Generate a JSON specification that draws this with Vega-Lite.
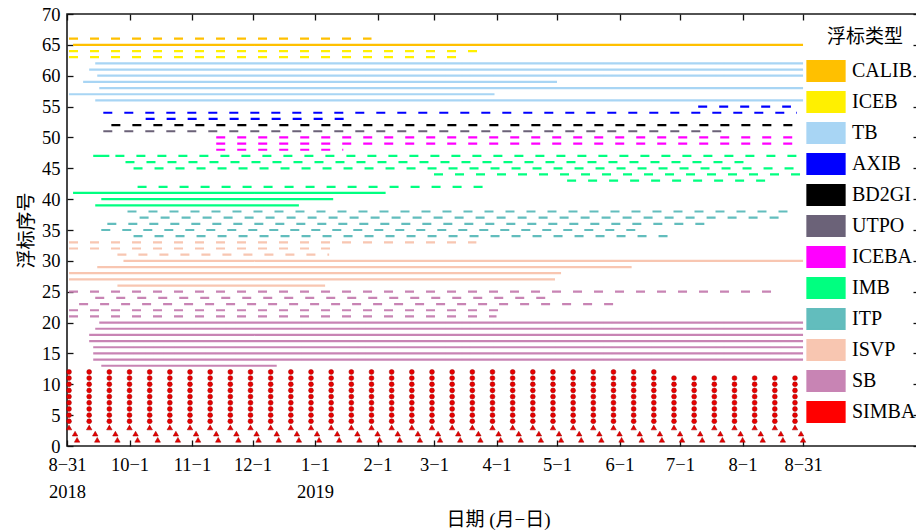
{
"$schema":"https://vega.github.io/schema/vega-lite/v6.json",
"width":852,"height":432,
"autosize":{"type":"none"},
"padding":{"left":67,"top":14,"right":0,"bottom":86},
"background":"white",
"config":{
 "view":{"stroke":"#1a1a1a","strokeWidth":1.6},
 "axis":{"domain":false,"grid":false,"tickColor":"#111","tickWidth":1.3,"tickSize":-6,"labelFont":"Liberation Serif","labelFontSize":18.5,"labelColor":"black","titleFont":"Liberation Serif, Noto Sans CJK SC","titleFontSize":19,"titleFontWeight":"normal","titleColor":"black"}
},
"datasets":{
"lines":[
{"t":"CALIB","y":66,"s":"2018-09-01","e":"2019-01-29","k":"dash"},
{"t":"CALIB","y":65,"s":"2018-09-03","e":"2019-08-31","k":"solid"},
{"t":"ICEB","y":64,"s":"2018-09-01","e":"2019-03-26","k":"dash"},
{"t":"ICEB","y":63,"s":"2018-09-01","e":"2019-03-16","k":"dash"},
{"t":"TB","y":62,"s":"2018-09-14","e":"2019-08-31","k":"solid"},
{"t":"TB","y":61,"s":"2018-09-11","e":"2019-08-31","k":"solid"},
{"t":"TB","y":60,"s":"2018-09-15","e":"2019-08-31","k":"solid"},
{"t":"TB","y":59,"s":"2018-09-08","e":"2019-05-01","k":"solid"},
{"t":"TB","y":58,"s":"2018-09-16","e":"2019-08-31","k":"solid"},
{"t":"TB","y":57,"s":"2018-09-01","e":"2019-03-31","k":"solid"},
{"t":"TB","y":56,"s":"2018-09-14","e":"2019-08-31","k":"solid"},
{"t":"AXIB","y":55,"s":"2019-07-10","e":"2019-08-25","k":"dash"},
{"t":"AXIB","y":54,"s":"2018-09-18","e":"2019-08-28","k":"dash"},
{"t":"AXIB","y":53,"s":"2018-10-09","e":"2019-01-16","k":"dash"},
{"t":"BD2GI","y":52,"s":"2018-09-22","e":"2019-08-31","k":"dash"},
{"t":"UTPO","y":51,"s":"2018-09-18","e":"2019-07-26","k":"dash"},
{"t":"ICEBA","y":50,"s":"2018-11-13","e":"2019-08-31","k":"dash"},
{"t":"ICEBA","y":49,"s":"2018-11-13","e":"2019-08-31","k":"dash"},
{"t":"ICEBA","y":48,"s":"2018-11-13","e":"2019-01-15","k":"dash"},
{"t":"IMB","y":47,"s":"2018-09-13","e":"2018-09-21","k":"solid"},
{"t":"IMB","y":47,"s":"2018-09-24","e":"2019-08-31","k":"dash"},
{"t":"IMB","y":46,"s":"2018-09-29","e":"2019-08-07","k":"dash"},
{"t":"IMB","y":45,"s":"2018-10-03","e":"2019-08-31","k":"dash"},
{"t":"IMB","y":44,"s":"2019-03-01","e":"2019-08-30","k":"dash"},
{"t":"IMB","y":43,"s":"2019-05-06","e":"2019-08-13","k":"dash"},
{"t":"IMB","y":42,"s":"2018-10-05","e":"2019-03-29","k":"dash"},
{"t":"IMB","y":41,"s":"2018-09-03","e":"2019-02-05","k":"solid"},
{"t":"IMB","y":40,"s":"2018-09-17","e":"2019-01-10","k":"solid"},
{"t":"IMB","y":39,"s":"2018-09-14","e":"2018-12-24","k":"solid"},
{"t":"ITP","y":38,"s":"2018-09-30","e":"2019-08-29","k":"dash"},
{"t":"ITP","y":37,"s":"2018-10-06","e":"2019-08-24","k":"dash"},
{"t":"ITP","y":36,"s":"2018-09-20","e":"2019-07-18","k":"dash"},
{"t":"ITP","y":35,"s":"2018-09-17","e":"2019-06-14","k":"dash"},
{"t":"ITP","y":34,"s":"2018-10-03","e":"2019-06-26","k":"dash"},
{"t":"ISVP","y":33,"s":"2018-09-01","e":"2019-03-22","k":"dash"},
{"t":"ISVP","y":32,"s":"2018-09-01","e":"2019-01-11","k":"dash"},
{"t":"ISVP","y":31,"s":"2018-09-25","e":"2019-01-08","k":"dash"},
{"t":"ISVP","y":30,"s":"2018-09-28","e":"2019-08-31","k":"solid"},
{"t":"ISVP","y":29,"s":"2018-09-15","e":"2019-06-07","k":"solid"},
{"t":"ISVP","y":28,"s":"2018-09-01","e":"2019-05-03","k":"solid"},
{"t":"ISVP","y":27,"s":"2018-09-01","e":"2019-04-30","k":"solid"},
{"t":"ISVP","y":26,"s":"2018-09-25","e":"2019-01-06","k":"solid"},
{"t":"SB","y":25,"s":"2018-09-01","e":"2019-08-21","k":"dash"},
{"t":"SB","y":24,"s":"2018-09-14","e":"2019-04-27","k":"dash"},
{"t":"SB","y":23,"s":"2018-09-06","e":"2019-06-02","k":"dash"},
{"t":"SB","y":22,"s":"2018-09-01","e":"2019-04-06","k":"dash"},
{"t":"SB","y":21,"s":"2018-09-01","e":"2019-04-01","k":"dash"},
{"t":"SB","y":20,"s":"2018-09-16","e":"2019-08-31","k":"solid"},
{"t":"SB","y":19,"s":"2018-09-14","e":"2019-08-31","k":"solid"},
{"t":"SB","y":18,"s":"2018-09-11","e":"2019-08-31","k":"solid"},
{"t":"SB","y":17,"s":"2018-09-11","e":"2019-08-31","k":"solid"},
{"t":"SB","y":16,"s":"2018-09-13","e":"2019-08-31","k":"solid"},
{"t":"SB","y":15,"s":"2018-09-13","e":"2019-08-31","k":"solid"},
{"t":"SB","y":14,"s":"2018-09-13","e":"2019-08-31","k":"solid"},
{"t":"SB","y":13,"s":"2018-09-17","e":"2018-12-13","k":"solid"}
],
"dots":[
{"d":"2018-09-01","y":4},{"d":"2018-09-01","y":5},{"d":"2018-09-01","y":6},{"d":"2018-09-01","y":7},{"d":"2018-09-01","y":8},{"d":"2018-09-01","y":9},{"d":"2018-09-01","y":10},{"d":"2018-09-01","y":11},{"d":"2018-09-01","y":12},
{"d":"2018-09-11","y":4},{"d":"2018-09-11","y":5},{"d":"2018-09-11","y":6},{"d":"2018-09-11","y":7},{"d":"2018-09-11","y":8},{"d":"2018-09-11","y":9},{"d":"2018-09-11","y":10},{"d":"2018-09-11","y":11},{"d":"2018-09-11","y":12},
{"d":"2018-09-21","y":4},{"d":"2018-09-21","y":5},{"d":"2018-09-21","y":6},{"d":"2018-09-21","y":7},{"d":"2018-09-21","y":8},{"d":"2018-09-21","y":9},{"d":"2018-09-21","y":10},{"d":"2018-09-21","y":11},{"d":"2018-09-21","y":12},
{"d":"2018-10-01","y":4},{"d":"2018-10-01","y":5},{"d":"2018-10-01","y":6},{"d":"2018-10-01","y":7},{"d":"2018-10-01","y":8},{"d":"2018-10-01","y":9},{"d":"2018-10-01","y":10},{"d":"2018-10-01","y":11},{"d":"2018-10-01","y":12},
{"d":"2018-10-11","y":4},{"d":"2018-10-11","y":5},{"d":"2018-10-11","y":6},{"d":"2018-10-11","y":7},{"d":"2018-10-11","y":8},{"d":"2018-10-11","y":9},{"d":"2018-10-11","y":10},{"d":"2018-10-11","y":11},{"d":"2018-10-11","y":12},
{"d":"2018-10-21","y":4},{"d":"2018-10-21","y":5},{"d":"2018-10-21","y":6},{"d":"2018-10-21","y":7},{"d":"2018-10-21","y":8},{"d":"2018-10-21","y":9},{"d":"2018-10-21","y":10},{"d":"2018-10-21","y":11},{"d":"2018-10-21","y":12},
{"d":"2018-10-31","y":4},{"d":"2018-10-31","y":5},{"d":"2018-10-31","y":6},{"d":"2018-10-31","y":7},{"d":"2018-10-31","y":8},{"d":"2018-10-31","y":9},{"d":"2018-10-31","y":10},{"d":"2018-10-31","y":11},{"d":"2018-10-31","y":12},
{"d":"2018-11-10","y":4},{"d":"2018-11-10","y":5},{"d":"2018-11-10","y":6},{"d":"2018-11-10","y":7},{"d":"2018-11-10","y":8},{"d":"2018-11-10","y":9},{"d":"2018-11-10","y":10},{"d":"2018-11-10","y":11},{"d":"2018-11-10","y":12},
{"d":"2018-11-20","y":4},{"d":"2018-11-20","y":5},{"d":"2018-11-20","y":6},{"d":"2018-11-20","y":7},{"d":"2018-11-20","y":8},{"d":"2018-11-20","y":9},{"d":"2018-11-20","y":10},{"d":"2018-11-20","y":11},{"d":"2018-11-20","y":12},
{"d":"2018-11-30","y":4},{"d":"2018-11-30","y":5},{"d":"2018-11-30","y":6},{"d":"2018-11-30","y":7},{"d":"2018-11-30","y":8},{"d":"2018-11-30","y":9},{"d":"2018-11-30","y":10},{"d":"2018-11-30","y":11},{"d":"2018-11-30","y":12},
{"d":"2018-12-10","y":4},{"d":"2018-12-10","y":5},{"d":"2018-12-10","y":6},{"d":"2018-12-10","y":7},{"d":"2018-12-10","y":8},{"d":"2018-12-10","y":9},{"d":"2018-12-10","y":10},{"d":"2018-12-10","y":11},{"d":"2018-12-10","y":12},
{"d":"2018-12-20","y":4},{"d":"2018-12-20","y":5},{"d":"2018-12-20","y":6},{"d":"2018-12-20","y":7},{"d":"2018-12-20","y":8},{"d":"2018-12-20","y":9},{"d":"2018-12-20","y":10},{"d":"2018-12-20","y":11},{"d":"2018-12-20","y":12},
{"d":"2018-12-30","y":4},{"d":"2018-12-30","y":5},{"d":"2018-12-30","y":6},{"d":"2018-12-30","y":7},{"d":"2018-12-30","y":8},{"d":"2018-12-30","y":9},{"d":"2018-12-30","y":10},{"d":"2018-12-30","y":11},{"d":"2018-12-30","y":12},
{"d":"2019-01-09","y":4},{"d":"2019-01-09","y":5},{"d":"2019-01-09","y":6},{"d":"2019-01-09","y":7},{"d":"2019-01-09","y":8},{"d":"2019-01-09","y":9},{"d":"2019-01-09","y":10},{"d":"2019-01-09","y":11},{"d":"2019-01-09","y":12},
{"d":"2019-01-19","y":4},{"d":"2019-01-19","y":5},{"d":"2019-01-19","y":6},{"d":"2019-01-19","y":7},{"d":"2019-01-19","y":8},{"d":"2019-01-19","y":9},{"d":"2019-01-19","y":10},{"d":"2019-01-19","y":11},{"d":"2019-01-19","y":12},
{"d":"2019-01-29","y":4},{"d":"2019-01-29","y":5},{"d":"2019-01-29","y":6},{"d":"2019-01-29","y":7},{"d":"2019-01-29","y":8},{"d":"2019-01-29","y":9},{"d":"2019-01-29","y":10},{"d":"2019-01-29","y":11},{"d":"2019-01-29","y":12},
{"d":"2019-02-08","y":4},{"d":"2019-02-08","y":5},{"d":"2019-02-08","y":6},{"d":"2019-02-08","y":7},{"d":"2019-02-08","y":8},{"d":"2019-02-08","y":9},{"d":"2019-02-08","y":10},{"d":"2019-02-08","y":11},{"d":"2019-02-08","y":12},
{"d":"2019-02-18","y":4},{"d":"2019-02-18","y":5},{"d":"2019-02-18","y":6},{"d":"2019-02-18","y":7},{"d":"2019-02-18","y":8},{"d":"2019-02-18","y":9},{"d":"2019-02-18","y":10},{"d":"2019-02-18","y":11},{"d":"2019-02-18","y":12},
{"d":"2019-02-28","y":4},{"d":"2019-02-28","y":5},{"d":"2019-02-28","y":6},{"d":"2019-02-28","y":7},{"d":"2019-02-28","y":8},{"d":"2019-02-28","y":9},{"d":"2019-02-28","y":10},{"d":"2019-02-28","y":11},{"d":"2019-02-28","y":12},
{"d":"2019-03-10","y":4},{"d":"2019-03-10","y":5},{"d":"2019-03-10","y":6},{"d":"2019-03-10","y":7},{"d":"2019-03-10","y":8},{"d":"2019-03-10","y":9},{"d":"2019-03-10","y":10},{"d":"2019-03-10","y":11},{"d":"2019-03-10","y":12},
{"d":"2019-03-20","y":4},{"d":"2019-03-20","y":5},{"d":"2019-03-20","y":6},{"d":"2019-03-20","y":7},{"d":"2019-03-20","y":8},{"d":"2019-03-20","y":9},{"d":"2019-03-20","y":10},{"d":"2019-03-20","y":11},{"d":"2019-03-20","y":12},
{"d":"2019-03-30","y":4},{"d":"2019-03-30","y":5},{"d":"2019-03-30","y":6},{"d":"2019-03-30","y":7},{"d":"2019-03-30","y":8},{"d":"2019-03-30","y":9},{"d":"2019-03-30","y":10},{"d":"2019-03-30","y":11},{"d":"2019-03-30","y":12},
{"d":"2019-04-09","y":4},{"d":"2019-04-09","y":5},{"d":"2019-04-09","y":6},{"d":"2019-04-09","y":7},{"d":"2019-04-09","y":8},{"d":"2019-04-09","y":9},{"d":"2019-04-09","y":10},{"d":"2019-04-09","y":11},{"d":"2019-04-09","y":12},
{"d":"2019-04-19","y":4},{"d":"2019-04-19","y":5},{"d":"2019-04-19","y":6},{"d":"2019-04-19","y":7},{"d":"2019-04-19","y":8},{"d":"2019-04-19","y":9},{"d":"2019-04-19","y":10},{"d":"2019-04-19","y":11},{"d":"2019-04-19","y":12},
{"d":"2019-04-29","y":4},{"d":"2019-04-29","y":5},{"d":"2019-04-29","y":6},{"d":"2019-04-29","y":7},{"d":"2019-04-29","y":8},{"d":"2019-04-29","y":9},{"d":"2019-04-29","y":10},{"d":"2019-04-29","y":11},{"d":"2019-04-29","y":12},
{"d":"2019-05-09","y":4},{"d":"2019-05-09","y":5},{"d":"2019-05-09","y":6},{"d":"2019-05-09","y":7},{"d":"2019-05-09","y":8},{"d":"2019-05-09","y":9},{"d":"2019-05-09","y":10},{"d":"2019-05-09","y":11},{"d":"2019-05-09","y":12},
{"d":"2019-05-19","y":4},{"d":"2019-05-19","y":5},{"d":"2019-05-19","y":6},{"d":"2019-05-19","y":7},{"d":"2019-05-19","y":8},{"d":"2019-05-19","y":9},{"d":"2019-05-19","y":10},{"d":"2019-05-19","y":11},{"d":"2019-05-19","y":12},
{"d":"2019-05-29","y":4},{"d":"2019-05-29","y":5},{"d":"2019-05-29","y":6},{"d":"2019-05-29","y":7},{"d":"2019-05-29","y":8},{"d":"2019-05-29","y":9},{"d":"2019-05-29","y":10},{"d":"2019-05-29","y":11},{"d":"2019-05-29","y":12},
{"d":"2019-06-08","y":4},{"d":"2019-06-08","y":5},{"d":"2019-06-08","y":6},{"d":"2019-06-08","y":7},{"d":"2019-06-08","y":8},{"d":"2019-06-08","y":9},{"d":"2019-06-08","y":10},{"d":"2019-06-08","y":11},{"d":"2019-06-08","y":12},
{"d":"2019-06-18","y":4},{"d":"2019-06-18","y":5},{"d":"2019-06-18","y":6},{"d":"2019-06-18","y":7},{"d":"2019-06-18","y":8},{"d":"2019-06-18","y":9},{"d":"2019-06-18","y":10},{"d":"2019-06-18","y":11},{"d":"2019-06-18","y":12},
{"d":"2019-06-28","y":4},{"d":"2019-06-28","y":5},{"d":"2019-06-28","y":6},{"d":"2019-06-28","y":7},{"d":"2019-06-28","y":8},{"d":"2019-06-28","y":9},{"d":"2019-06-28","y":10},{"d":"2019-06-28","y":11},
{"d":"2019-07-08","y":4},{"d":"2019-07-08","y":5},{"d":"2019-07-08","y":6},{"d":"2019-07-08","y":7},{"d":"2019-07-08","y":8},{"d":"2019-07-08","y":9},{"d":"2019-07-08","y":10},{"d":"2019-07-08","y":11},
{"d":"2019-07-18","y":4},{"d":"2019-07-18","y":5},{"d":"2019-07-18","y":6},{"d":"2019-07-18","y":7},{"d":"2019-07-18","y":8},{"d":"2019-07-18","y":9},{"d":"2019-07-18","y":10},{"d":"2019-07-18","y":11},
{"d":"2019-07-28","y":4},{"d":"2019-07-28","y":5},{"d":"2019-07-28","y":6},{"d":"2019-07-28","y":7},{"d":"2019-07-28","y":8},{"d":"2019-07-28","y":9},{"d":"2019-07-28","y":10},{"d":"2019-07-28","y":11},
{"d":"2019-08-07","y":4},{"d":"2019-08-07","y":5},{"d":"2019-08-07","y":6},{"d":"2019-08-07","y":7},{"d":"2019-08-07","y":8},{"d":"2019-08-07","y":9},{"d":"2019-08-07","y":10},{"d":"2019-08-07","y":11},
{"d":"2019-08-17","y":4},{"d":"2019-08-17","y":5},{"d":"2019-08-17","y":6},{"d":"2019-08-17","y":7},{"d":"2019-08-17","y":8},{"d":"2019-08-17","y":9},{"d":"2019-08-17","y":10},{"d":"2019-08-17","y":11},
{"d":"2019-08-27","y":4},{"d":"2019-08-27","y":5},{"d":"2019-08-27","y":6},{"d":"2019-08-27","y":7},{"d":"2019-08-27","y":8},{"d":"2019-08-27","y":9},{"d":"2019-08-27","y":10},{"d":"2019-08-27","y":11}
],
"tris":[
{"d":"2018-09-01","y":3},{"d":"2018-09-04","y":2},{"d":"2018-09-05","y":1},
{"d":"2018-09-11","y":3},{"d":"2018-09-14","y":2},{"d":"2018-09-15","y":1},
{"d":"2018-09-21","y":3},{"d":"2018-09-24","y":2},{"d":"2018-09-25","y":1},
{"d":"2018-10-01","y":3},{"d":"2018-10-04","y":2},{"d":"2018-10-05","y":1},
{"d":"2018-10-11","y":3},{"d":"2018-10-14","y":2},{"d":"2018-10-15","y":1},
{"d":"2018-10-21","y":3},{"d":"2018-10-24","y":2},{"d":"2018-10-25","y":1},
{"d":"2018-10-31","y":3},{"d":"2018-11-03","y":2},{"d":"2018-11-04","y":1},
{"d":"2018-11-10","y":3},{"d":"2018-11-13","y":2},{"d":"2018-11-14","y":1},
{"d":"2018-11-20","y":3},{"d":"2018-11-23","y":2},{"d":"2018-11-24","y":1},
{"d":"2018-11-30","y":3},{"d":"2018-12-03","y":2},{"d":"2018-12-04","y":1},
{"d":"2018-12-10","y":3},{"d":"2018-12-13","y":2},{"d":"2018-12-14","y":1},
{"d":"2018-12-20","y":3},{"d":"2018-12-23","y":2},{"d":"2018-12-24","y":1},
{"d":"2018-12-30","y":3},{"d":"2019-01-02","y":2},{"d":"2019-01-03","y":1},
{"d":"2019-01-09","y":3},{"d":"2019-01-12","y":2},{"d":"2019-01-13","y":1},
{"d":"2019-01-19","y":3},{"d":"2019-01-22","y":2},{"d":"2019-01-23","y":1},
{"d":"2019-01-29","y":3},{"d":"2019-02-01","y":2},{"d":"2019-02-02","y":1},
{"d":"2019-02-08","y":3},{"d":"2019-02-11","y":2},{"d":"2019-02-12","y":1},
{"d":"2019-02-18","y":3},{"d":"2019-02-21","y":2},{"d":"2019-02-22","y":1},
{"d":"2019-02-28","y":3},{"d":"2019-03-03","y":2},{"d":"2019-03-04","y":1},
{"d":"2019-03-10","y":3},{"d":"2019-03-13","y":2},{"d":"2019-03-14","y":1},
{"d":"2019-03-20","y":3},{"d":"2019-03-23","y":2},{"d":"2019-03-24","y":1},
{"d":"2019-03-30","y":3},{"d":"2019-04-02","y":2},{"d":"2019-04-03","y":1},
{"d":"2019-04-09","y":3},{"d":"2019-04-12","y":2},{"d":"2019-04-13","y":1},
{"d":"2019-04-19","y":3},{"d":"2019-04-22","y":2},{"d":"2019-04-23","y":1},
{"d":"2019-04-29","y":3},{"d":"2019-05-02","y":2},{"d":"2019-05-03","y":1},
{"d":"2019-05-09","y":3},{"d":"2019-05-12","y":2},{"d":"2019-05-13","y":1},
{"d":"2019-05-19","y":3},{"d":"2019-05-22","y":2},{"d":"2019-05-23","y":1},
{"d":"2019-05-29","y":3},{"d":"2019-06-01","y":2},{"d":"2019-06-02","y":1},
{"d":"2019-06-08","y":3},{"d":"2019-06-11","y":2},{"d":"2019-06-12","y":1},
{"d":"2019-06-18","y":3},{"d":"2019-06-21","y":2},{"d":"2019-06-22","y":1},
{"d":"2019-06-28","y":3},{"d":"2019-07-01","y":2},{"d":"2019-07-02","y":1},
{"d":"2019-07-08","y":3},{"d":"2019-07-11","y":2},{"d":"2019-07-12","y":1},
{"d":"2019-07-18","y":3},{"d":"2019-07-21","y":2},{"d":"2019-07-22","y":1},
{"d":"2019-07-28","y":3},{"d":"2019-07-31","y":2},{"d":"2019-08-01","y":1},
{"d":"2019-08-07","y":3},{"d":"2019-08-10","y":2},{"d":"2019-08-11","y":1},
{"d":"2019-08-17","y":3},{"d":"2019-08-20","y":2},{"d":"2019-08-21","y":1},
{"d":"2019-08-27","y":3},{"d":"2019-08-30","y":2},{"d":"2019-08-31","y":1}
]
},
"resolve":{"axis":{"x":"independent","y":"independent"}},
"layer":[
{
 "data":{"name":"lines"},
 "mark":{"type":"rule","strokeWidth":2.2},
 "encoding":{
  "x":{"field":"s","type":"temporal","scale":{"type":"utc","domain":[{"year":2018,"month":8,"date":31,"utc":true},{"year":2019,"month":10,"date":27,"hours":12,"utc":true}]},
   "axis":{"orient":"bottom","title":"日期 (月−日)","titlePadding":10,"titleX":431,"labelPadding":15,"labelFlush":false,"labelLineHeight":27,"labelBaseline":"top",
    "values":[{"year":2018,"month":8,"date":31,"utc":true},{"year":2018,"month":10,"date":1,"utc":true},{"year":2018,"month":11,"date":1,"utc":true},{"year":2018,"month":12,"date":1,"utc":true},{"year":2019,"month":1,"date":1,"utc":true},{"year":2019,"month":2,"date":1,"utc":true},{"year":2019,"month":3,"date":1,"utc":true},{"year":2019,"month":4,"date":1,"utc":true},{"year":2019,"month":5,"date":1,"utc":true},{"year":2019,"month":6,"date":1,"utc":true},{"year":2019,"month":7,"date":1,"utc":true},{"year":2019,"month":8,"date":1,"utc":true},{"year":2019,"month":8,"date":31,"utc":true}],
    "labelExpr":"(utcyear(datum.value)==2018 && utcmonth(datum.value)==7) ? ['8−31','2018'] : (utcmonth(datum.value)==0 ? ['1−1','2019'] : (utcmonth(datum.value)+1) + '−' + utcdate(datum.value))"}},
  "x2":{"field":"e"},
  "y":{"field":"y","type":"quantitative","scale":{"domain":[0,70],"nice":false,"zero":true},
   "axis":{"orient":"left","title":"浮标序号","titlePadding":5,"labelPadding":13,"values":[0,5,10,15,20,25,30,35,40,45,50,55,60,65,70]}},
  "color":{"field":"t","type":"nominal",
   "scale":{"domain":["CALIB","ICEB","TB","AXIB","BD2GI","UTPO","ICEBA","IMB","ITP","ISVP","SB","SIMBA"],
            "range":["#FFC000","#FFF000","#A8D5F4","#0000FF","#000000","#6B6278","#FF00FF","#00FF80","#62BDBD","#F8C6B1","#C884B4","#FF0000"]},
   "legend":{"orient":"none","legendX":747,"legendY":14,"title":"浮标类型","titleFont":"Noto Sans CJK SC","titleFontSize":19,"titleFontWeight":"normal","titleColor":"black","titleAnchor":"middle","titlePadding":12,
    "labelFont":"Liberation Serif","labelFontSize":20,"labelColor":"black","labelOffset":14,"labelLimit":300,
    "symbolType":"M-1.727,-0.95L1.727,-0.95L1.727,0.95L-1.727,0.95Z","symbolSize":484,"symbolStrokeWidth":1.3,"symbolStrokeColor":"#333","rowPadding":3,"padding":0,
    "encode":{"symbols":{"update":{"fill":{"scale":"color","field":"value"},"stroke":{"value":"#333333"},"opacity":{"value":1},"strokeWidth":{"value":1.3}}}}}},
  "strokeDash":{"field":"k","type":"nominal","scale":{"domain":["solid","dash"],"range":[[1,0],[9,12]]},"legend":null}
 }
},
{
 "data":{"name":"dots"},
 "mark":{"type":"point","shape":"circle","filled":true,"size":24,"opacity":1,"color":"#E60000","stroke":"#A00000","strokeWidth":0.5},
 "encoding":{
  "x":{"field":"d","type":"temporal","axis":{"orient":"top","labels":false,"title":null,
    "values":[{"year":2018,"month":8,"date":31,"utc":true},{"year":2018,"month":10,"date":1,"utc":true},{"year":2018,"month":11,"date":1,"utc":true},{"year":2018,"month":12,"date":1,"utc":true},{"year":2019,"month":1,"date":1,"utc":true},{"year":2019,"month":2,"date":1,"utc":true},{"year":2019,"month":3,"date":1,"utc":true},{"year":2019,"month":4,"date":1,"utc":true},{"year":2019,"month":5,"date":1,"utc":true},{"year":2019,"month":6,"date":1,"utc":true},{"year":2019,"month":7,"date":1,"utc":true},{"year":2019,"month":8,"date":1,"utc":true},{"year":2019,"month":8,"date":31,"utc":true}]}},
  "y":{"field":"y","type":"quantitative","axis":{"orient":"right","labels":false,"title":null,"values":[0,5,10,15,20,25,30,35,40,45,50,55,60,65,70]}}
 }
},
{
 "data":{"name":"tris"},
 "mark":{"type":"point","shape":"triangle-up","filled":true,"size":30,"opacity":1,"color":"#E60000","stroke":"#A00000","strokeWidth":0.5},
 "encoding":{
  "x":{"field":"d","type":"temporal","axis":null},
  "y":{"field":"y","type":"quantitative","axis":null}
 }
}
]
}
